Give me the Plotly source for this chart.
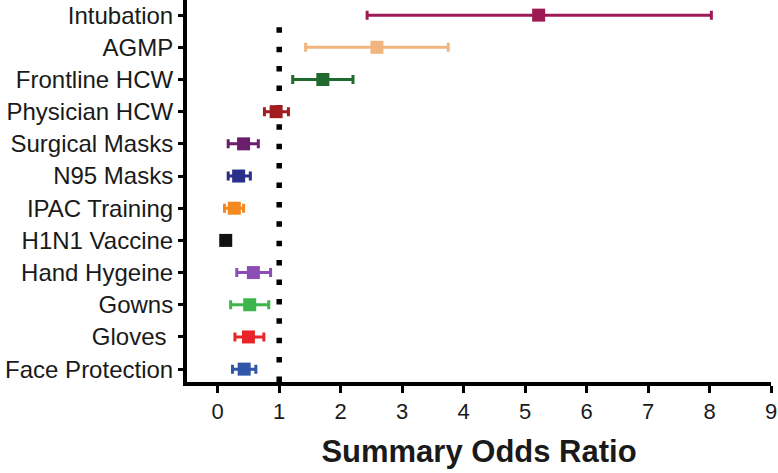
import plotly.graph_objects as go

labels = ["Intubation", "AGMP", "Frontline HCW", "Physician HCW", "Surgical Masks",
          "N95 Masks", "IPAC Training", "H1N1 Vaccine", "Hand Hygeine", "Gowns",
          "Gloves\u00a0", "Face Protection"]
odds = [5.22, 2.59, 1.71, 0.95, 0.42, 0.34, 0.27, 0.13, 0.58, 0.52, 0.50, 0.43]
lower = [2.43, 1.43, 1.22, 0.76, 0.17, 0.17, 0.11, 0.10, 0.31, 0.21, 0.28, 0.24]
upper = [8.03, 3.75, 2.20, 1.15, 0.66, 0.53, 0.42, 0.16, 0.86, 0.83, 0.75, 0.62]
colors = ["#9e1a55", "#f3b57e", "#1f6a2e", "#a31d20", "#6a1f6c", "#2a2f8a",
          "#f5891f", "#111111", "#8d4db6", "#3db54a", "#e8262a", "#2f56a9"]
xticks = [0, 1, 2, 3, 4, 5, 6, 7, 8, 9]

fig = go.Figure()
for lab, o, lo, hi, c in zip(labels, odds, lower, upper, colors):
    fig.add_trace(go.Scatter(
        x=[o], y=[lab], mode="markers",
        marker=dict(symbol="square", size=13, color=c),
        error_x=dict(type="data", symmetric=False, array=[hi - o], arrayminus=[o - lo],
                     color=c, thickness=3, width=4.5),
        showlegend=False, hoverinfo="skip",
    ))

fig.add_shape(type="line", xref="x", yref="paper", x0=1, x1=1, y0=0, y1=0.96,
              line=dict(color="black", width=5.5, dash="5.5px,13.9px"), layer="below")

fig.update_layout(
    width=778, height=473,
    margin=dict(l=187, r=7, t=0, b=91),
    plot_bgcolor="white", paper_bgcolor="white",
    font=dict(family="Liberation Sans, Arial, sans-serif", color="#1a1a1a", size=20),
    xaxis=dict(range=[-0.5, 9], tickvals=xticks, ticktext=[str(t) for t in xticks],
               automargin=False,
               showgrid=False, zeroline=False, showline=True, linecolor="black", linewidth=4,
               ticks="outside", ticklen=7, tickwidth=3, tickcolor="black",
               tickfont=dict(size=22),
               title=dict(text="<b>Summary Odds Ratio</b>", font=dict(size=31), standoff=18)),
    yaxis=dict(type="category", categoryorder="array", categoryarray=labels[::-1],
               automargin=False,
               range=[-0.4, 11.47], showgrid=False, zeroline=False, showline=True,
               linecolor="black", linewidth=4, ticks="outside", ticklen=5, tickwidth=3,
               tickcolor="black", tickfont=dict(size=24)),
)

fig.write_html("out.html", config={"displayModeBar": False},
               post_script="document.body.style.margin='0';document.body.style.overflow='hidden';")
